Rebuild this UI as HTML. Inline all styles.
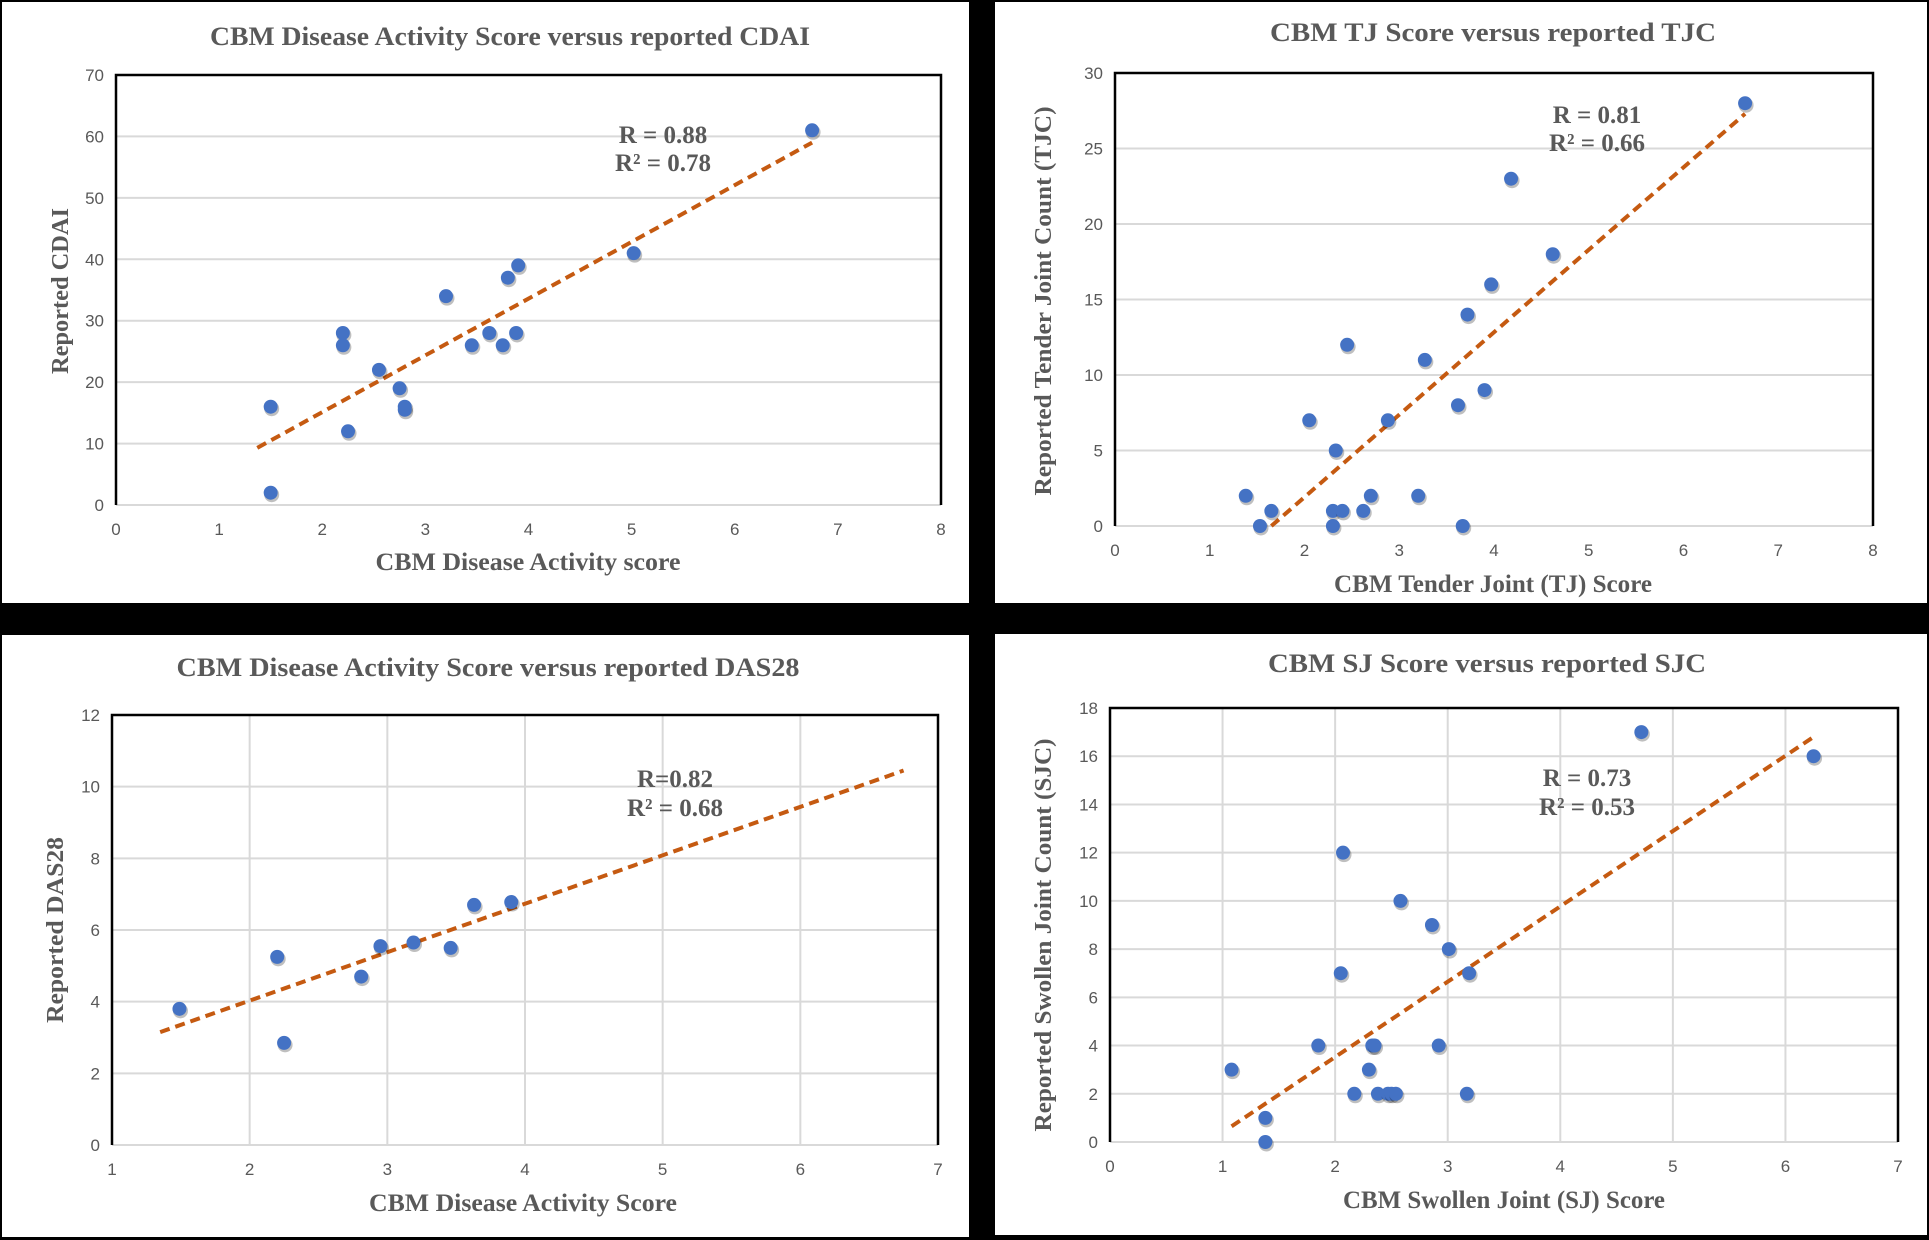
<!DOCTYPE html>
<html><head><meta charset="utf-8"><style>
html,body{margin:0;padding:0;background:#000;}
svg{display:block;}
</style></head><body>
<svg id="root" width="1929" height="1240" viewBox="0 0 1929 1240" xmlns="http://www.w3.org/2000/svg">
<rect x="0" y="0" width="1929" height="1240" fill="#000"/>
</svg>
<script>
// ---- Data: panel 1 (CDAI)
const cdaiX = [1.5,1.5,2.2,2.2,2.25,2.55,2.75,2.8,2.8,3.2,3.45,3.62,3.75,3.8,3.88,3.9,5.02,6.75];
const cdaiY = [16,2,28,26,12,22,19,16,15.5,34,26,28,26,37,28,39,41,61];
const cdaiTrend = [[1.37,9.3],[6.75,59]];
const cdaiXTicks = [0,1,2,3,4,5,6,7,8];
const cdaiYTicks = [0,10,20,30,40,50,60,70];
// ---- Data: panel 2 (TJC)
const tjX = [1.38,1.53,1.65,2.05,2.3,2.3,2.33,2.4,2.45,2.62,2.7,2.88,3.2,3.27,3.62,3.67,3.72,3.9,3.97,4.18,4.62,6.65];
const tjY = [2,0,1,7,1,0,5,1,12,1,2,7,2,11,8,0,14,9,16,23,18,28];
const tjTrend = [[1.65,0],[6.65,27.3]];
const tjXTicks = [0,1,2,3,4,5,6,7,8];
const tjYTicks = [0,5,10,15,20,25,30];
// ---- Data: panel 3 (DAS28)
const dasX = [1.49,2.2,2.25,2.81,2.95,3.19,3.46,3.63,3.9];
const dasY = [3.8,5.25,2.85,4.7,5.55,5.65,5.5,6.7,6.78];
const dasTrend = [[1.35,3.15],[6.75,10.45]];
const dasXTicks = [1,2,3,4,5,6,7];
const dasYTicks = [0,2,4,6,8,10,12];
// ---- Data: panel 4 (SJC)
const sjX = [1.08,1.38,1.38,1.85,2.05,2.07,2.17,2.3,2.33,2.35,2.38,2.47,2.5,2.54,2.58,2.86,2.92,3.01,3.17,3.19,4.72,6.25];
const sjY = [3,1,0,4,7,12,2,3,4,4,2,2,2,2,10,9,4,8,2,7,17,16];
const sjTrend = [[1.08,0.65],[6.25,16.8]];
const sjXTicks = [0,1,2,3,4,5,6,7];
const sjYTicks = [0,2,4,6,8,10,12,14,16,18];

const NS = "http://www.w3.org/2000/svg";
const root = document.getElementById('root');
function mk(tag, attrs, parent){
  const e = document.createElementNS(NS, tag);
  for (const k in attrs) e.setAttribute(k, attrs[k]);
  (parent||root).appendChild(e);
  return e;
}

function panel(cfg){
  const g = mk('g', {});
  
  
  const bg = mk('rect', {x:cfg.bx, y:cfg.by, width:cfg.bw, height:cfg.bh, fill:'#fff'}, g);
  
  
  const L=cfg.px0, R=cfg.px1, T=cfg.py0, B=cfg.py1;
  const xmin=cfg.xt[0], xmax=cfg.xt[cfg.xt.length-1];
  const ymin=cfg.yt[0], ymax=cfg.yt[cfg.yt.length-1];
  const sx = v => L + (v-xmin)/(xmax-xmin)*(R-L);
  const sy = v => B - (v-ymin)/(ymax-ymin)*(B-T);
  cfg.yt.forEach(t => {
    const ln = mk('line', {x1:L, x2:R, y1:sy(t), y2:sy(t), stroke:'#d9d9d9', 'stroke-width':2}, g);
    
    
    const tx = mk('text', {x:L-12, y:sy(t)+6, 'text-anchor':'end', 'font-family':'Liberation Sans, sans-serif', 'font-size':17, fill:'#595959'}, g);
    tx.textContent = t;
    
    
  });
  cfg.xt.forEach(t => {
    if (cfg.vgrid) {
      const ln = mk('line', {x1:sx(t), x2:sx(t), y1:T, y2:B, stroke:'#d9d9d9', 'stroke-width':2}, g);
      
      
    }
    const tx = mk('text', {x:sx(t), y:B+30, 'text-anchor':'middle', 'font-family':'Liberation Sans, sans-serif', 'font-size':17, fill:'#595959'}, g);
    tx.textContent = t;
    
    
  });
  const fr = mk('path', {d:`M${L},${B} L${L},${T} L${R},${T} L${R},${B}`, fill:'none', stroke:'#000', 'stroke-width':2.5}, g);
  
  
  const tl = mk('line', {x1:sx(cfg.trend[0][0]), y1:sy(cfg.trend[0][1]), x2:sx(cfg.trend[1][0]), y2:sy(cfg.trend[1][1]), stroke:'#C55A11', 'stroke-width':4, 'stroke-dasharray':'10,6'}, g);
  
  
  cfg.xs.forEach((xv,i) => {
    const sh = mk('circle', {cx:sx(xv)+1, cy:sy(cfg.ys[i])+2, r:7.5, fill:'rgba(0,0,0,0.25)'}, g);
    
    
    const c = mk('circle', {cx:sx(xv), cy:sy(cfg.ys[i]), r:7, fill:'#4472C4'}, g);
    
    
  });
  const ti = mk('text', {x:cfg.tx, y:cfg.ty, 'text-anchor':'middle', 'font-family':'Liberation Serif, serif', 'font-weight':'bold', 'font-size':26, fill:'#595959', textLength:cfg.tw, lengthAdjust:'spacingAndGlyphs'}, g);
  ti.textContent = cfg.title;
  
  
  const xa = mk('text', {x:cfg.xax, y:cfg.xay, 'text-anchor':'middle', 'font-family':'Liberation Serif, serif', 'font-weight':'bold', 'font-size':25, fill:'#595959', textLength:cfg.xaw, lengthAdjust:'spacingAndGlyphs'}, g);
  xa.textContent = cfg.xtitle;
  
  
  const ya = mk('text', {x:0, y:0, 'text-anchor':'middle', 'font-family':'Liberation Serif, serif', 'font-weight':'bold', 'font-size':24, fill:'#595959', textLength:cfg.yal, lengthAdjust:'spacingAndGlyphs', transform:`translate(${cfg.yax},${cfg.yay}) rotate(-90)`}, g);
  ya.textContent = cfg.ytitle;
  
  
  const a1 = mk('text', {x:cfg.ax, y:cfg.ay1, 'text-anchor':'middle', 'font-family':'Liberation Serif, serif', 'font-weight':'bold', 'font-size':25, fill:'#595959'}, g);
  a1.textContent = cfg.r;
  
  
  const a2 = mk('text', {x:cfg.ax, y:cfg.ay2, 'text-anchor':'middle', 'font-family':'Liberation Serif, serif', 'font-weight':'bold', 'font-size':25, fill:'#595959'}, g);
  a2.textContent = cfg.r2;
  
  
}

panel({name:'cdai-panel', bx:2,by:2,bw:967,bh:601, px0:116,px1:941,py0:75,py1:505,
  xt:cdaiXTicks, yt:cdaiYTicks, xs:cdaiX, ys:cdaiY, trend:cdaiTrend, vgrid:false,
  title:'CBM Disease  Activity Score versus  reported  CDAI', tx:510, ty:45, tw:600,
  xtitle:'CBM Disease Activity score', xax:528, xay:570, xaw:305,
  ytitle:'Reported CDAI', yax:68, yay:291, yal:166,
  r:'R = 0.88', r2:'R² = 0.78', ax:663, ay1:143, ay2:171});

panel({name:'tjc-panel', bx:995,by:2,bw:932,bh:601, px0:1115,px1:1873,py0:73,py1:526,
  xt:tjXTicks, yt:tjYTicks, xs:tjX, ys:tjY, trend:tjTrend, vgrid:false,
  title:'CBM TJ Score versus reported TJC', tx:1493, ty:41, tw:446,
  xtitle:'CBM Tender Joint (TJ) Score', xax:1493, xay:592, xaw:318,
  ytitle:'Reported Tender Joint Count (TJC)', yax:1051, yay:301, yal:389,
  r:'R = 0.81', r2:'R² = 0.66', ax:1597, ay1:123, ay2:151});

panel({name:'das28-panel', bx:2,by:635,bw:967,bh:602, px0:112,px1:938,py0:715,py1:1145,
  xt:dasXTicks, yt:dasYTicks, xs:dasX, ys:dasY, trend:dasTrend, vgrid:true,
  title:'CBM Disease  Activity Score versus  reported  DAS28', tx:488, ty:676, tw:623,
  xtitle:'CBM Disease Activity Score', xax:523, xay:1211, xaw:308,
  ytitle:'Reported DAS28', yax:63, yay:930, yal:186,
  r:'R=0.82', r2:'R² = 0.68', ax:675, ay1:787, ay2:816});

panel({name:'sjc-panel', bx:995,by:634,bw:932,bh:601, px0:1110,px1:1898,py0:708,py1:1142,
  xt:sjXTicks, yt:sjYTicks, xs:sjX, ys:sjY, trend:sjTrend, vgrid:true,
  title:'CBM SJ Score versus  reported SJC', tx:1487, ty:672, tw:438,
  xtitle:'CBM Swollen Joint (SJ) Score', xax:1504, xay:1208, xaw:322,
  ytitle:'Reported Swollen Joint Count (SJC)', yax:1051, yay:935, yal:393,
  r:'R = 0.73', r2:'R² = 0.53', ax:1587, ay1:786, ay2:815});
</script>
</body></html>
